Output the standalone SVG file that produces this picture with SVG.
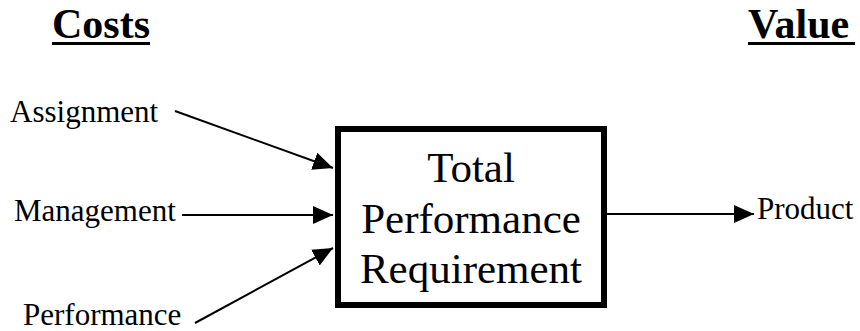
<svg xmlns="http://www.w3.org/2000/svg" width="860" height="331" viewBox="0 0 860 331">
<style>
.lbl{font-family:"Liberation Serif","Times New Roman",serif;font-size:31px;fill:#000}
.hdr{font-family:"Liberation Serif","Times New Roman",serif;font-size:42px;font-weight:bold;fill:#000}
.ul{stroke:#000;stroke-width:3}
.big{font-family:"Liberation Serif","Times New Roman",serif;font-size:43px;fill:#000;text-anchor:middle}
.conn{stroke:#000;stroke-width:2;fill:none;marker-end:url(#ah)}
</style>
<defs>
<marker id="ah" markerWidth="20" markerHeight="18" refX="20" refY="9" orient="auto" markerUnits="userSpaceOnUse" viewBox="0 0 20 18">
<path d="M0,0 L20,9 L0,18 Z" fill="#000"/>
</marker>
</defs>
<rect width="860" height="331" fill="#fff"/>
<g id="costs"><text class="hdr" x="52" y="38">Costs</text><line class="ul" x1="52" y1="43.5" x2="150" y2="43.5"/></g>
<g id="value"><text class="hdr" x="748" y="38">Value</text><line class="ul" x1="748" y1="43.5" x2="855" y2="43.5"/></g>
<g id="assignment"><text class="lbl" x="10" y="122">Assignment</text></g>
<g id="management"><text class="lbl" x="14" y="221">Management</text></g>
<g id="performance"><text class="lbl" x="23" y="325">Performance</text></g>
<g id="product"><text class="lbl" x="757" y="219">Product</text></g>
<g id="tpr">
<rect x="338" y="129" width="266" height="176" fill="none" stroke="#000" stroke-width="6"/>
<text class="big" x="471" y="182">Total</text>
<text class="big" x="471" y="233">Performance</text>
<text class="big" x="471" y="283">Requirement</text>
</g>
<g id="connectors">
<path class="conn" d="M175,111 L333,168"/>
<path class="conn" d="M182,215 L333,215"/>
<path class="conn" d="M195,323 L333,248"/>
<path class="conn" d="M607,214 L754,214"/>
</g>
</svg>
